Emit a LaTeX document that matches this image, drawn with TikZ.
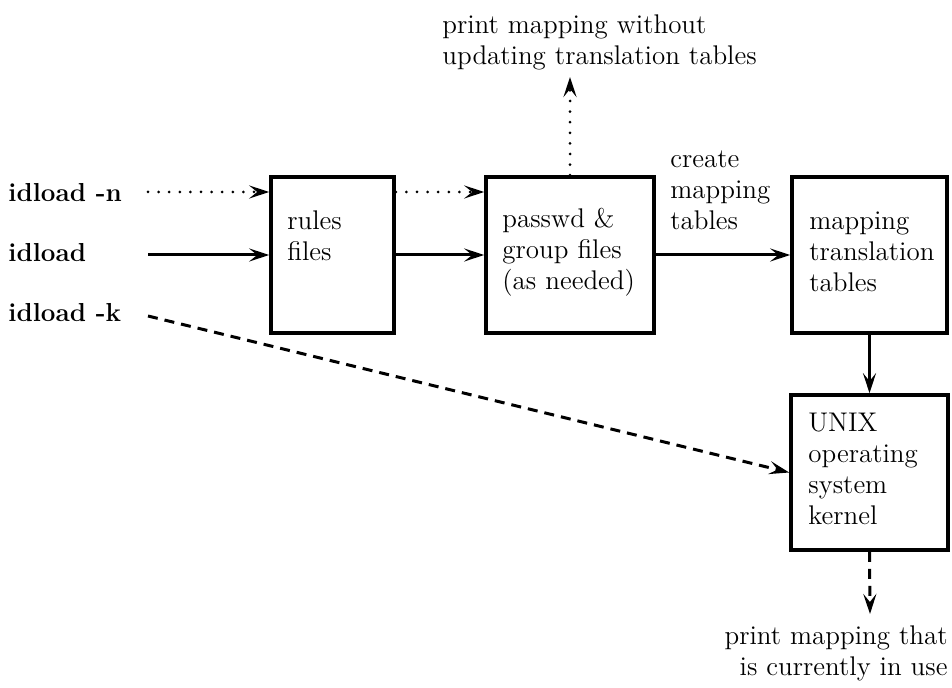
\documentclass[tikz,border=0pt]{standalone}
\usepackage{fontspec}
\usetikzlibrary{arrows.meta}
\tikzset{
  box/.style={draw, line width=1.8pt, rectangle, inner sep=0pt},
  lbl/.style={inner sep=0pt, anchor=base west, align=left, text width=80pt,
    font=\fontsize{13.5}{15.5}\selectfont},
  cmd/.style={inner sep=0pt, anchor=base west, font=\fontsize{13}{15}\selectfont\bfseries},
  flow/.style={line width=1.5pt, -{Stealth[length=10pt,width=6.5pt,inset=4pt]}},
  dotflow/.style={flow, line cap=round, dash pattern=on 0pt off 5.3pt},
  dashflow/.style={flow, dash pattern=on 5pt off 3.5pt},
}
\begin{document}
\begin{tikzpicture}[x=0.5pt, y=-0.5pt]
\useasboundingbox (0,0) rectangle (952,688);
% boxes
\node[box, minimum width=61.5pt, minimum height=78pt] (rules) at (332.5,255){};
\node[box, minimum width=84pt, minimum height=78pt] (passwd) at (570,255){};
\node[box, minimum width=77.5pt, minimum height=78pt] (maptab) at (869.5,255){};
\node[box, minimum width=78.5pt, minimum height=77.5pt] (unix) at (869.5,472.5){};
\node[lbl] (rulestxt) at (287,230){rules\\files};
\node[lbl] (passwdtxt) at (502,228){passwd \&\\group files\\(as needed)};
\node[lbl] (maptabtxt) at (809,230){mapping\\translation\\tables};
\node[lbl] (unixtxt) at (808,432){UNIX\\operating\\system\\kernel};
% commands
\node[cmd] (idn) at (8,202){idload -n};
\node[cmd] (id) at (8,262){idload};
\node[cmd] (idk) at (8,322){idload -k};
\coordinate (nout) at (148,192);
\coordinate (iout) at (148,255);
\coordinate (kout) at (148,316);
\coordinate (upend) at (570,77);
\coordinate (downend) at (870,614);
% notes
\node[lbl, text width=170pt] (uptxt) at (442,34){print mapping without\\updating translation tables};
\node[lbl, anchor=base east, align=right, text width=120pt] (downtxt) at (948,645){print mapping that\\is currently in use};
\node[lbl] (createtxt) at (670,168){create\\mapping\\tables};
% connectors
\draw[dotflow] (nout) -- (nout -| rules.west);
\draw[dotflow] (nout -| rules.east) -- (nout -| passwd.west);
\draw[dotflow] (passwd.north) -- (upend);
\draw[flow] (iout) -- (rules.west);
\draw[flow] (rules.east) -- (passwd.west);
\draw[flow] (passwd.east) -- (maptab.west);
\draw[flow] (maptab.south) -- (unix.north);
\draw[dashflow] (kout) -- (unix.west);
\draw[dashflow] (unix.south) -- (downend);
\end{tikzpicture}
\end{document}
